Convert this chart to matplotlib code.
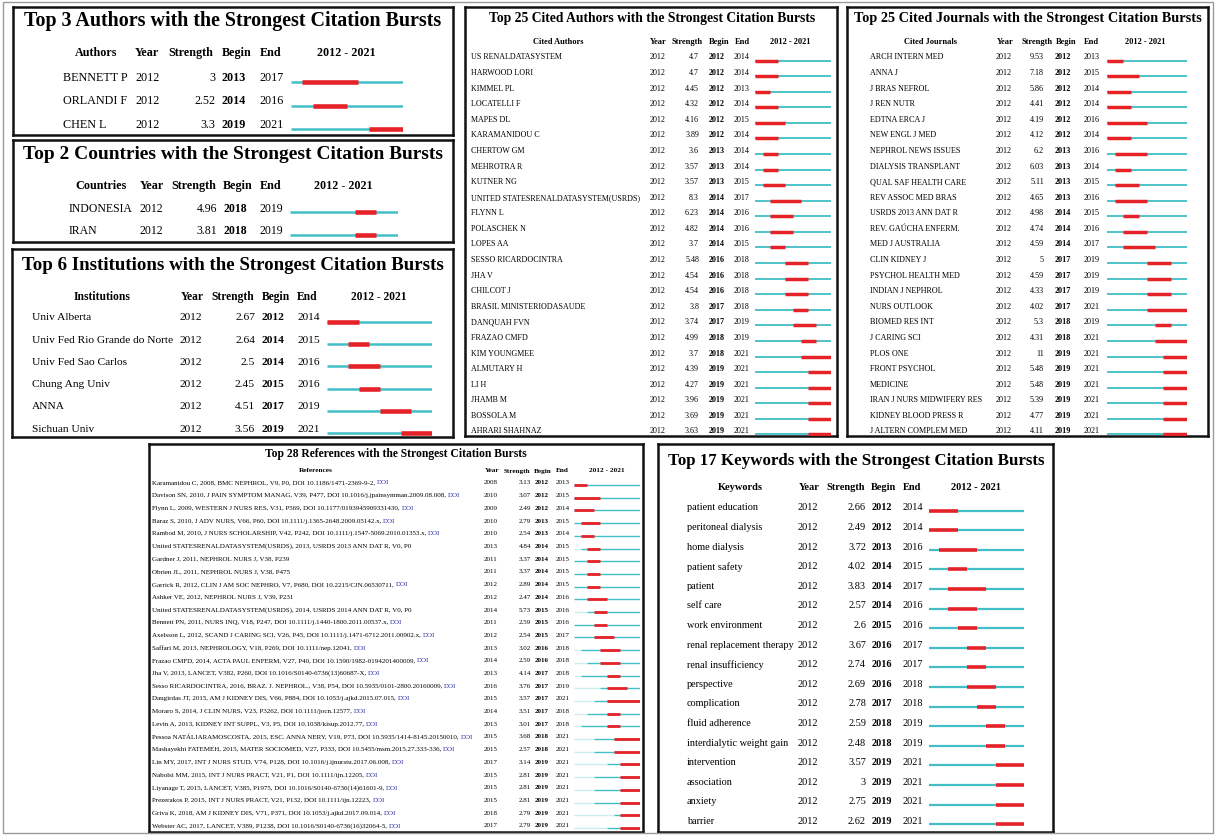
import numpy as np
import matplotlib.pyplot as plt
from matplotlib.patches import Rectangle
from matplotlib.transforms import blended_transform_factory

plt.rcParams['font.family'] = ['Liberation Serif', 'DejaVu Serif']

W, H = 1216, 837
CYAN = '#42BEC6'
RED = '#E42227'
PALE = '#CDEDEF'

# ---- data -------------------------------------------------------------
auth_names = ['BENNETT P', 'ORLANDI F', 'CHEN L']
auth_year = [2012, 2012, 2012]
auth_str = [3, 2.52, 3.3]
auth_begin = [2013, 2014, 2019]
auth_end = [2017, 2016, 2021]

ctry_names = ['INDONESIA', 'IRAN']
ctry_year = [2012, 2012]
ctry_str = [4.96, 3.81]
ctry_begin = [2018, 2018]
ctry_end = [2019, 2019]

inst_names = ['Univ Alberta', 'Univ Fed Rio Grande do Norte', 'Univ Fed Sao Carlos',
              'Chung Ang Univ', 'ANNA', 'Sichuan Univ']
inst_year = [2012] * 6
inst_str = [2.67, 2.64, 2.5, 2.45, 4.51, 3.56]
inst_begin = [2012, 2014, 2014, 2015, 2017, 2019]
inst_end = [2014, 2015, 2016, 2016, 2019, 2021]

cauth_names = ['US RENALDATASYSTEM', 'HARWOOD LORI', 'KIMMEL PL', 'LOCATELLI F', 'MAPES DL',
               'KARAMANIDOU C', 'CHERTOW GM', 'MEHROTRA R', 'KUTNER NG',
               'UNITED STATESRENALDATASYSTEM(USRDS)', 'FLYNN L', 'POLASCHEK N', 'LOPES AA',
               'SESSO RICARDOCINTRA', 'JHA V', 'CHILCOT J', 'BRASIL MINISTERIODASAUDE',
               'DANQUAH FVN', 'FRAZAO CMFD', 'KIM YOUNGMEE', 'ALMUTARY H', 'LI H', 'JHAMB M',
               'BOSSOLA M', 'AHRARI SHAHNAZ']
cauth_year = [2012] * 25
cauth_str = [4.7, 4.7, 4.45, 4.32, 4.16, 3.89, 3.6, 3.57, 3.57, 8.3, 6.23, 4.82, 3.7,
             5.48, 4.54, 4.54, 3.8, 3.74, 4.99, 3.7, 4.39, 4.27, 3.96, 3.69, 3.63]
cauth_begin = [2012, 2012, 2012, 2012, 2012, 2012, 2013, 2013, 2013, 2014, 2014, 2014, 2014,
               2016, 2016, 2016, 2017, 2017, 2018, 2018, 2019, 2019, 2019, 2019, 2019]
cauth_end = [2014, 2014, 2013, 2014, 2015, 2014, 2014, 2014, 2015, 2017, 2016, 2016, 2015,
             2018, 2018, 2018, 2018, 2019, 2019, 2021, 2021, 2021, 2021, 2021, 2021]

jour_names = ['ARCH INTERN MED', 'ANNA J', 'J BRAS NEFROL', 'J REN NUTR', 'EDTNA ERCA J',
              'NEW ENGL J MED', 'NEPHROL NEWS ISSUES', 'DIALYSIS TRANSPLANT',
              'QUAL SAF HEALTH CARE', 'REV ASSOC MED BRAS', 'USRDS 2013 ANN DAT R',
              'REV. GAÚCHA ENFERM.', 'MED J AUSTRALIA', 'CLIN KIDNEY J', 'PSYCHOL HEALTH MED',
              'INDIAN J NEPHROL', 'NURS OUTLOOK', 'BIOMED RES INT', 'J CARING SCI', 'PLOS ONE',
              'FRONT PSYCHOL', 'MEDICINE', 'IRAN J NURS MIDWIFERY RES', 'KIDNEY BLOOD PRESS R',
              'J ALTERN COMPLEM MED']
jour_year = [2012] * 25
jour_str = [9.53, 7.18, 5.86, 4.41, 4.19, 4.12, 6.2, 6.03, 5.11, 4.65, 4.98, 4.74, 4.59,
            5, 4.59, 4.33, 4.02, 5.3, 4.31, 11, 5.48, 5.48, 5.39, 4.77, 4.11]
jour_begin = [2012, 2012, 2012, 2012, 2012, 2012, 2013, 2013, 2013, 2013, 2014, 2014, 2014,
              2017, 2017, 2017, 2017, 2018, 2018, 2019, 2019, 2019, 2019, 2019, 2019]
jour_end = [2013, 2015, 2014, 2014, 2016, 2014, 2016, 2014, 2015, 2016, 2015, 2016, 2017,
            2019, 2019, 2019, 2021, 2019, 2021, 2021, 2021, 2021, 2021, 2021, 2021]

ref_names = [
    'Karamanidou C, 2008, BMC NEPHROL, V9, P0, DOI 10.1186/1471-2369-9-2',
    'Davison SN, 2010, J PAIN SYMPTOM MANAG, V39, P477, DOI 10.1016/j.jpainsymman.2009.08.008',
    'Flynn L, 2009, WESTERN J NURS RES, V31, P569, DOI 10.1177/0193945909331430',
    'Baraz S, 2010, J ADV NURS, V66, P60, DOI 10.1111/j.1365-2648.2009.05142.x',
    'Rambod M, 2010, J NURS SCHOLARSHIP, V42, P242, DOI 10.1111/j.1547-5069.2010.01353.x',
    'United STATESRENALDATASYSTEM(USRDS), 2013, USRDS 2013 ANN DAT R, V0, P0',
    'Gardner J, 2011, NEPHROL NURS J, V38, P239',
    'Obrien JL, 2011, NEPHROL NURS J, V38, P475',
    'Garrick R, 2012, CLIN J AM SOC NEPHRO, V7, P680, DOI 10.2215/CJN.06530711',
    'Ashker VE, 2012, NEPHROL NURS J, V39, P231',
    'United STATESRENALDATASYSTEM(USRDS), 2014, USRDS 2014 ANN DAT R, V0, P0',
    'Bennett PN, 2011, NURS INQ, V18, P247, DOI 10.1111/j.1440-1800.2011.00537.x',
    'Axelsson L, 2012, SCAND J CARING SCI, V26, P45, DOI 10.1111/j.1471-6712.2011.00902.x',
    'Saffari M, 2013, NEPHROLOGY, V18, P269, DOI 10.1111/nep.12041',
    'Frazao CMFD, 2014, ACTA PAUL ENFERM, V27, P40, DOI 10.1590/1982-0194201400009',
    'Jha V, 2013, LANCET, V382, P260, DOI 10.1016/S0140-6736(13)60687-X',
    'Sesso RICARDOCINTRA, 2016, BRAZ. J. NEPHROL., V38, P54, DOI 10.5935/0101-2800.20160009',
    'Daugirdas JT, 2015, AM J KIDNEY DIS, V66, P884, DOI 10.1053/j.ajkd.2015.07.015',
    'Moraro S, 2014, J CLIN NURS, V23, P3262, DOI 10.1111/jocn.12577',
    'Levin A, 2013, KIDNEY INT SUPPL, V3, P5, DOI 10.1038/kisup.2012.77',
    'Pessoa NATÁLIARAMOSCOSTA, 2015, ESC. ANNA NERY, V19, P73, DOI 10.5935/1414-8145.20150010',
    'Mashayekhi FATEMEH, 2015, MATER SOCIOMED, V27, P333, DOI 10.5455/msm.2015.27.333-336',
    'Lin MY, 2017, INT J NURS STUD, V74, P128, DOI 10.1016/j.ijnurstu.2017.06.008',
    'Nabolsi MM, 2015, INT J NURS PRACT, V21, P1, DOI 10.1111/ijn.12205',
    'Liyanage T, 2015, LANCET, V385, P1975, DOI 10.1016/S0140-6736(14)61601-9',
    'Prezerakos P, 2015, INT J NURS PRACT, V21, P132, DOI 10.1111/ijn.12223',
    'Griva K, 2018, AM J KIDNEY DIS, V71, P371, DOI 10.1053/j.ajkd.2017.09.014',
    'Webster AC, 2017, LANCET, V389, P1238, DOI 10.1016/S0140-6736(16)32064-5',
]
ref_year = [2008, 2010, 2009, 2010, 2010, 2013, 2011, 2011, 2012, 2012, 2014, 2011, 2012, 2013,
            2014, 2013, 2016, 2015, 2014, 2013, 2015, 2015, 2017, 2015, 2015, 2015, 2018, 2017]
ref_str = [3.13, 3.07, 2.49, 2.79, 2.54, 4.84, 3.37, 3.37, 2.89, 2.47, 5.73, 2.59, 2.54, 3.02,
           2.59, 4.14, 3.76, 3.57, 3.51, 3.01, 3.68, 2.57, 3.14, 2.81, 2.81, 2.81, 2.79, 2.79]
ref_begin = [2012, 2012, 2012, 2013, 2013, 2014, 2014, 2014, 2014, 2014, 2015, 2015, 2015, 2016,
             2016, 2017, 2017, 2017, 2017, 2017, 2018, 2018, 2019, 2019, 2019, 2019, 2019, 2019]
ref_end = [2013, 2015, 2014, 2015, 2014, 2015, 2015, 2015, 2015, 2016, 2016, 2016, 2017, 2018,
           2018, 2018, 2019, 2021, 2018, 2018, 2021, 2021, 2021, 2021, 2021, 2021, 2021, 2021]

kw_names = ['patient education', 'peritoneal dialysis', 'home dialysis', 'patient safety',
            'patient', 'self care', 'work environment', 'renal replacement therapy',
            'renal insufficiency', 'perspective', 'complication', 'fluid adherence',
            'interdialytic weight gain', 'intervention', 'association', 'anxiety', 'barrier']
kw_year = [2012] * 17
kw_str = [2.66, 2.49, 3.72, 4.02, 3.83, 2.57, 2.6, 3.67, 2.74, 2.69, 2.78, 2.59, 2.48,
          3.57, 3, 2.75, 2.62]
kw_begin = [2012, 2012, 2013, 2014, 2014, 2014, 2015, 2016, 2016, 2016, 2017, 2018, 2018,
            2019, 2019, 2019, 2019]
kw_end = [2014, 2014, 2016, 2015, 2017, 2016, 2016, 2017, 2017, 2018, 2018, 2019, 2019,
          2021, 2021, 2021, 2021]

fig = plt.figure(figsize=(W / 100, H / 100), dpi=100)
fig.patches.append(Rectangle((3 / W, 3 / H), 1 - 6 / W, 1 - 6 / H, transform=fig.transFigure,
                             fill=False, ec='#9a9a9a', lw=1))


def panel(box, title, title_pos, head_y, row0, step, heads, head_x, cols, bar, fs, lw,
          names, years, strengths, begins, ends, bar_dy=4, refs=False):
    x0, y0, x1, y1 = box
    ax = fig.add_axes([x0 / W, 1 - y1 / H, (x1 - x0) / W, (y1 - y0) / H])
    ax.set_xlim(x0, x1)
    ax.set_ylim((y1 - row0) / step, (y0 - row0) / step)
    ax.set_xticks([])
    ax.set_yticks([])
    for s in ax.spines.values():
        s.set_linewidth(1.8)
        s.set_color('#111111')

    # title, scaled to (a little under) the width it has in the picture
    tx, ty, tw = title_pos
    t = ax.text(tx, (ty - row0) / step, title, ha='center', va='center',
                fontweight='bold', fontsize=12)
    w = t.get_window_extent(fig.canvas.get_renderer()).width
    t.set_fontsize(12 * 0.96 * tw / w)

    hy = (head_y - row0) / step
    for label, hx in zip(heads, head_x):
        ax.text(hx, hy, label, ha='center', va='center', fontweight='bold', fontsize=fs[1])

    nx, yx, sx, bgx, ex = cols
    for i, name in enumerate(names):
        if refs and 'DOI' in name:
            name = name + ', '
        tn = ax.text(nx, i, name, ha='left', va='center', fontsize=fs[0])
        if refs and 'DOI' in names[i]:
            ax.annotate('DOI', xy=(1, 0), xycoords=tn, va='bottom', ha='left',
                        fontsize=fs[0], color='#2a2aa6')
        ax.text(yx, i, str(years[i]), ha='left', va='center', fontsize=fs[0])
        ax.text(sx, i, f'{strengths[i]:g}', ha='right', va='center', fontsize=fs[0])
        ax.text(bgx, i, str(begins[i]), ha='left', va='center', fontsize=fs[0],
                fontweight='bold')
        ax.text(ex, i, str(ends[i]), ha='left', va='center', fontsize=fs[0])

    # timeline 2012-2021, one unit per year
    bx = ax.inset_axes([bar[0], 0, bar[1] - bar[0], 1],
                       transform=blended_transform_factory(ax.transData, ax.transAxes))
    bx.set_xlim(2012, 2022)
    bx.set_ylim(ax.get_ylim())
    bx.axis('off')
    rows = np.arange(len(names)) + bar_dy / step
    start = np.clip(np.array(years), 2012, 2022)
    if refs:
        bx.hlines(rows, 2012, start, color=PALE, lw=lw[0])
        bx.hlines(rows, start, 2022, color=CYAN, lw=lw[0])
    else:
        bx.hlines(rows, 2012, 2022, color=CYAN, lw=lw[0])
    bx.hlines(rows, begins, np.array(ends) + 1, color=RED, lw=lw[1])


std = ['Year', 'Strength', 'Begin', 'End', '2012 - 2021']

panel((13, 8, 453, 136), 'Top 3 Authors with the Strongest Citation Bursts', (233, 21, 433),
      53, 78, 23.5, ['Authors'] + std, [96, 147, 191, 237, 271, 346],
      (63, 135, 215, 222, 259), (291, 403), (8.7, 8.7), (1.8, 3.3),
      auth_names, auth_year, auth_str, auth_begin, auth_end, bar_dy=5)

panel((13, 141, 453, 243), 'Top 2 Countries with the Strongest Citation Bursts', (233, 155, 434),
      186, 209, 22.5, ['Countries'] + std, [101, 152, 194, 238, 271, 343],
      (69, 139, 217, 223, 259), (290, 398), (8.5, 8.7), (1.8, 3.3),
      ctry_names, ctry_year, ctry_str, ctry_begin, ctry_end, bar_dy=4)

panel((12, 250, 453, 438), 'Top 6 Institutions with the Strongest Citation Bursts', (233, 266, 436),
      297, 318, 22.2, ['Institutions'] + std, [102, 192, 233, 276, 307, 379],
      (32, 180, 255, 262, 297), (327, 432), (8.2, 8.3), (1.8, 3.3),
      inst_names, inst_year, inst_str, inst_begin, inst_end, bar_dy=5)

panel((465, 8, 837, 437), 'Top 25 Cited Authors with the Strongest Citation Bursts',
      (652, 19, 336), 42, 57.5, 15.58, ['Cited Authors'] + std,
      [558, 658, 687, 719, 742, 790],
      (471, 650, 699, 709, 734), (755, 831), (5.8, 6.0), (1.3, 2.5),
      cauth_names, cauth_year, cauth_str, cauth_begin, cauth_end, bar_dy=4)

panel((847, 8, 1208, 437), 'Top 25 Cited Journals with the Strongest Citation Bursts',
      (1028, 19, 357), 42, 57.5, 15.58, ['Cited Journals'] + std,
      [930, 1005, 1037, 1066, 1091, 1145],
      (870, 996, 1044, 1055, 1084), (1107, 1187), (5.9, 6.0), (1.3, 2.5),
      jour_names, jour_year, jour_str, jour_begin, jour_end, bar_dy=4)

panel((149, 445, 643, 833), 'Top 28 References with the Strongest Citation Bursts',
      (396, 454, 272), 471, 483, 12.7, ['References'] + std,
      [316, 492, 517, 543, 562, 607],
      (152, 484, 531, 535, 556), (574, 640), (5.0, 5.2), (1.0, 2.0),
      ref_names, ref_year, ref_str, ref_begin, ref_end, bar_dy=3, refs=True)

panel((658, 445, 1053, 833), 'Top 17 Keywords with the Strongest Citation Bursts',
      (856, 461, 388), 488, 508, 19.6, ['Keywords'] + std,
      [740, 809, 846, 884, 912, 976],
      (687, 798, 866, 872, 903), (929, 1024), (7.4, 7.5), (1.6, 2.6),
      kw_names, kw_year, kw_str, kw_begin, kw_end, bar_dy=3.5)

fig.savefig('out.png', dpi=100)
